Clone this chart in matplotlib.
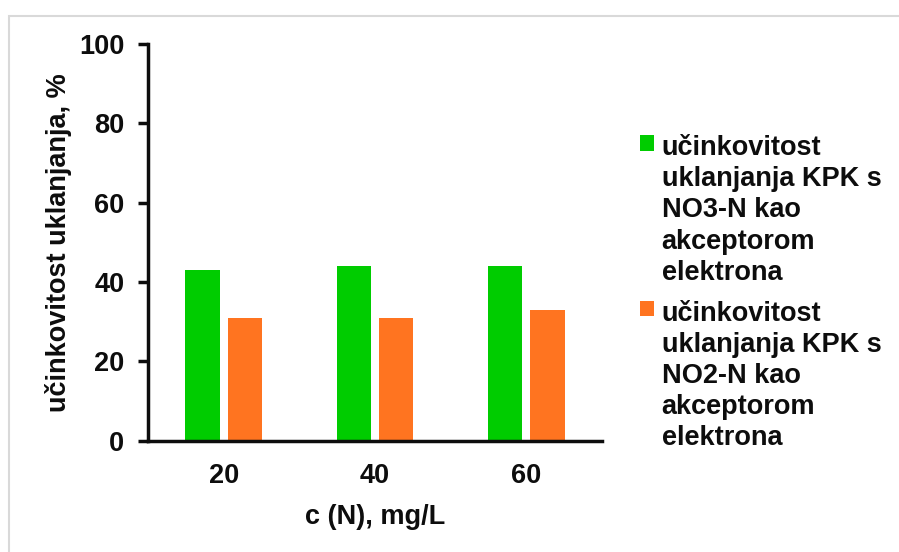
import numpy as np
import matplotlib.pyplot as plt
from matplotlib.patches import Rectangle

plt.rcParams['font.family'] = ['Liberation Sans', 'DejaVu Sans']
plt.rcParams['font.weight'] = 'bold'

categories = ['20', '40', '60']
no3_values = [43, 44, 44]
no2_values = [31, 31, 33]
labels = ['učinkovitost\nuklanjanja KPK s\nNO3-N kao\nakceptorom\nelektrona',
          'učinkovitost\nuklanjanja KPK s\nNO2-N kao\nakceptorom\nelektrona']
colors = ['#00cc00', '#ff7420']
text_col = '#0d0d0d'
fs = 19.5

fig = plt.figure(figsize=(8.99, 5.52), dpi=100)
ax = fig.add_axes([148 / 899, 1 - 440.7 / 552, 454 / 899, (440.7 - 44) / 552])

# chart area frame
fig.patches.append(Rectangle((8.5 / 899, -0.1), 1.2, 1 - 15.5 / 552 + 0.1,
                             transform=fig.transFigure, fill=False,
                             edgecolor='#d9d9d9', linewidth=1.5))

x = np.arange(len(categories))
w = 0.225
ax.bar(x - 0.14, no3_values, w, color=colors[0], label=labels[0])
ax.bar(x + 0.14, no2_values, w, color=colors[1], label=labels[1])

ax.set_xlim(-0.5, 2.5)
ax.set_ylim(0, 100)
ax.set_yticks([0, 20, 40, 60, 80, 100])
ax.set_xticks(x)
ax.set_xticklabels(categories)

for s in ['top', 'right']:
    ax.spines[s].set_visible(False)
for s in ['left', 'bottom']:
    ax.spines[s].set_linewidth(2.5)
    ax.spines[s].set_color(text_col)

ax.tick_params(axis='y', length=7, width=2.5, color=text_col, pad=10,
               labelsize=fs, labelcolor=text_col)
ax.tick_params(axis='x', length=0, pad=16, labelsize=fs, labelcolor=text_col)

ax.set_xlabel('c (N), mg/L', fontsize=fs, fontweight='bold', color=text_col, labelpad=11)
ax.set_ylabel('učinkovitost uklanjanja, %', fontsize=fs, fontweight='bold',
              color=text_col, labelpad=5)

leg = ax.legend(loc='upper left', bbox_to_anchor=(640 / 899, 1 - 135 / 552),
                bbox_transform=fig.transFigure, frameon=False,
                prop={'size': fs, 'weight': 'bold'}, handlelength=0.52,
                handleheight=0.52, handletextpad=0.28, labelspacing=0.55,
                borderaxespad=0, borderpad=0)
for t in leg.get_texts():
    t.set_color(text_col)
    t.set_linespacing(1.26)
# square next to the first line of each label
for col in leg._legend_handle_box.get_children():
    for row in col.get_children():
        row.align = 'top'

fig.savefig('out.png', dpi=100)
